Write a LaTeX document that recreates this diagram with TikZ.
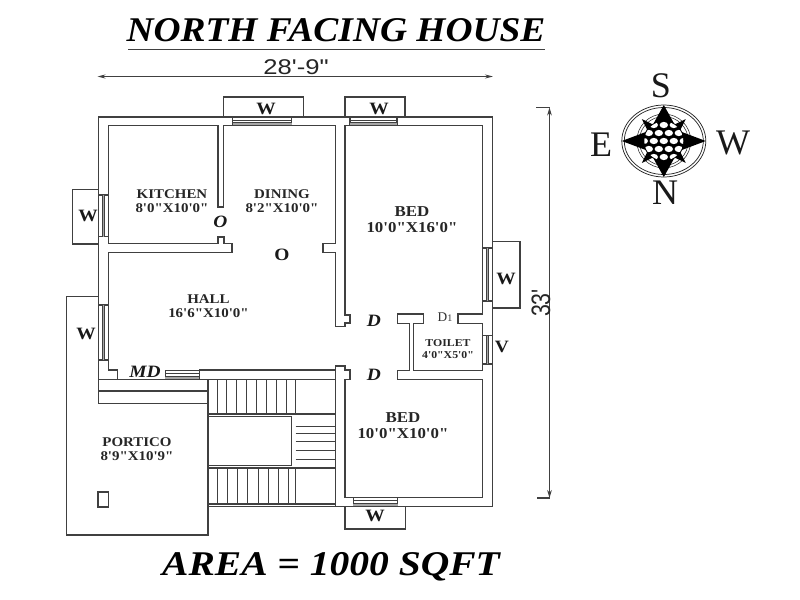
\documentclass[tikz,border=0pt]{standalone}
\usepackage{fontspec}
\usetikzlibrary{arrows.meta}
\newfontfamily\srf{Liberation Serif}
\newfontfamily\snf{Liberation Sans}
\definecolor{wallc}{HTML}{404040}
\newcommand{\fs}[1]{\fontsize{#1}{#1}\selectfont}
\newcommand{\WinH}[4]{\draw[wall,fill=white] (#1,#3) rectangle (#2,#4);
  \fill[gray!70] (#1,#4-3.5) rectangle (#2,#4-1);
  \draw[thin1] (#1,#3+3) -- (#2,#3+3) (#1,#4-3.5) -- (#2,#4-3.5);}
\newcommand{\WinV}[4]{\draw[wall,fill=white] (#1,#3) rectangle (#2,#4);
  \fill[gray!70] (#1+3.5,#3) rectangle (#1+6,#4);
  \draw[thin1] (#1+3.5,#3) -- (#1+3.5,#4) (#1+6,#3) -- (#1+6,#4);}
\tikzset{
  wall/.style={draw=wallc,line width=0.85pt,line join=miter},
  thin1/.style={draw=wallc,line width=0.4pt},
  lbl/.style={font=\srf\bfseries\fs{10},text=black!85,inner sep=0pt,align=center,xscale=1.12,transform shape},
  bedlbl/.style={lbl,font=\srf\bfseries\fs{11.3}},
  toil/.style={lbl,font=\srf\bfseries\fs{7.9}},
  bigw/.style={font=\srf\bfseries\fs{13},text=black!90,inner sep=0pt,xscale=1.12,transform shape},
  itl/.style={font=\srf\bfseries\itshape\fs{13},text=black!90,inner sep=0pt,xscale=1.12,transform shape},
  comp/.style={font=\srf\fs{27},text=black!90,inner sep=0pt},
  dimtxt/.style={font=\snf\fs{16},text=black!85,inner sep=0pt},
  dimline/.style={draw=wallc,line width=0.8pt},
  ttl/.style={font=\srf\bfseries\itshape\fs{26},text=black,inner sep=0pt},
}
\begin{document}
\begin{tikzpicture}[x=0.75pt,y=-0.75pt]
\useasboundingbox (0,0) rectangle (800,600);
\fill[white] (0,0) rectangle (800,600);

% title
\node[ttl,xscale=1.08,transform shape] (title) at (336,30) {NORTH FACING HOUSE};
\coordinate (ul1) at (128,49.5); \coordinate (ul2) at (545,49.5);
\draw[wall] (ul1) -- (ul2);
\node[ttl,xscale=1.14,transform shape] (area) at (331,567) {AREA = 1000 SQFT};

% dimensions
\coordinate (dw1) at (97.5,76.5); \coordinate (dw2) at (493,76.5);
\draw[dimline,{Stealth[length=6pt,width=3pt]}-{Stealth[length=6pt,width=3pt]}] (dw1) -- (dw2);
\node[dimtxt,xscale=1.2,transform shape] (dimw) at (296,67) {28'-9"};
\coordinate (dh1) at (549.5,107.5); \coordinate (dh2) at (549.5,498);
\draw[dimline,{Stealth[length=6pt,width=3.5pt]}-{Stealth[length=6pt,width=3.5pt]}] (dh1) -- (dh2);
\draw[dimline] (536,107.5) -- (dh1) (537,498) -- (dh2);
\node[dimtxt,rotate=90,yscale=1.25,transform shape] (dimh) at (541,303) {33'};

% window bays
\draw[wall] (223.3,117) -- (223.3,97) -- (303.3,97) -- (303.3,117);
\draw[wall] (345,117) -- (345,97) -- (405,97) -- (405,117);
\draw[wall] (98.3,189.3) -- (72.7,189.3) -- (72.7,244) -- (98.3,244);
\draw[wall] (492.7,241.7) -- (520,241.7) -- (520,308) -- (492.7,308);
\draw[wall] (345,506.7) -- (345,529) -- (405.7,529) -- (405.7,506.7);

% outer wall
\draw[wall] (98.3,403.3) -- (98.3,117) -- (492.7,117) -- (492.7,506.7) -- (208,506.7);
% inner outline
\draw[wall] (108.6,243.5) -- (108.6,125.6) -- (218,125.6) -- (218,207) -- (223.6,207) -- (223.6,125.6)
  -- (335.3,125.6) -- (335.3,243.5) -- (323,243.5) -- (323,252.7) -- (335.3,252.7) -- (335.3,326.7)
  -- (345,326.7) -- (345,323) -- (350,323) -- (350,315) -- (345,315) -- (345,125.6)
  -- (482.7,125.6) -- (482.7,314) -- (458,314) -- (458,323.3) -- (482.7,323.3) -- (482.7,370.3)
  -- (413.7,370.3) -- (413.7,323.3) -- (423.7,323.3) -- (423.7,314) -- (397.7,314) -- (397.7,323.3)
  -- (409.3,323.3) -- (409.3,370.3) -- (397.7,370.3) -- (397.7,379.7) -- (482.7,379.7) -- (482.7,497.3)
  -- (345,497.3) -- (345,379.7) -- (350,379.7) -- (350,370) -- (345,370) -- (345,366) -- (335.3,366)
  -- (335.3,370) -- (199.3,370);
\draw[wall] (108.6,243.5) -- (218,243.5) -- (218,237) -- (224,237) -- (224,243.5) -- (232,243.5)
  -- (232,252.7) -- (108.6,252.7) -- (108.6,370) -- (117.3,370) -- (117.3,379.7);
\draw[wall] (98.3,379.7) -- (335.3,379.7);
\draw[wall] (335.3,370) -- (335.3,506.7);
\draw[wall] (98.3,391) -- (208,391);
\draw[wall] (98.3,403.3) -- (208,403.3);

% portico
\draw[wall] (98.3,296.7) -- (66.7,296.7) -- (66.7,535) -- (208,535) -- (208,379.7);
\draw[wall] (98,492) rectangle (108.7,507);

% stairs
\draw[wall] (208,414) -- (335.3,414);
\draw[wall] (208,416.7) -- (291.7,416.7) -- (291.7,465.7) -- (208,465.7);
\draw[wall] (208,468) -- (335.3,468);
\draw[wall] (208,504) -- (335.3,504);
\draw[wall] (295.7,379.7) -- (295.7,414) (295.7,468) -- (295.7,504);
\foreach \x in {217,226.7,236.7,246.7,256.7,266.7,276.7,286.7}
  \draw[wall,line width=0.7pt] (\x,379.7) -- (\x,414);
\foreach \x in {217.7,227.7,237.7,247.7,258.3,268.3,278.3,288.3}
  \draw[wall,line width=0.7pt] (\x,468) -- (\x,504);
\foreach \y in {426,433.7,441.7,450,459.3}
  \draw[wall,line width=0.7pt] (295.7,\y) -- (335.3,\y);

% windows
\WinH{232.7}{291.7}{117}{125.6}
\WinH{350}{397}{117}{125.6}
\WinH{353.3}{397.7}{497.3}{506.7}
\WinH{165.3}{199.3}{370.7}{379.7}
\WinV{98.3}{108.6}{195}{236.7}
\WinV{98.3}{108.6}{305}{360}
\WinV{482.7}{492.7}{248}{301}
\WinV{482.7}{492.7}{335.7}{364}

% labels
\node[bigw] (w1) at (266,108.5) {W};
\node[bigw] (w2) at (379,109) {W};
\node[bigw] (w3) at (88,216) {W};
\node[bigw] (w4) at (506,279) {W};
\node[bigw] (w5) at (86,334) {W};
\node[bigw] (w6) at (375,516) {W};
\node[bigw] (v1) at (502,347) {V};
\node[bigw] (o2) at (282,255) {O};
\node[itl] (o1) at (220.5,222) {O};
\node[itl] (d1) at (374,321) {D};
\node[itl] (d2) at (374,374.5) {D};
\node[itl] (md) at (145,371.5) {MD};
\node[font=\srf\fs{10},text=black!80,inner sep=0pt] (d3) at (445,317) {D{\fs{7.5}1}};
\node[lbl] (kit) at (172,201) {KITCHEN\\[0.6pt]8'0"X10'0"};
\node[lbl] (din) at (282,201) {DINING\\[0.6pt]8'2"X10'0"};
\node[lbl] (hall) at (208.5,306.5) {HALL\\[0.6pt]16'6"X10'0"};
\node[bedlbl] (bed1) at (412,220) {BED\\[0.8pt]10'0"X16'0"};
\node[bedlbl] (bed2) at (403,426) {BED\\[0.8pt]10'0"X10'0"};
\node[lbl] (port) at (137,449.5) {PORTICO\\[0.6pt]8'9"X10'9"};
\node[toil] (toil) at (448,349) {TOILET\\[0.5pt]4'0"X5'0"};

% compass
\begin{scope}[shift={(663.8,141)}]
  \draw[line width=0.55pt,black!85] (0,0) ellipse [x radius=42,y radius=36];
  \draw[line width=0.55pt,black!85] (0,0) ellipse [x radius=39.5,y radius=33.5];
  \draw[line width=0.4pt,black!85] (0,0) circle (27);
  \draw[line width=0.4pt,black!85] (0,0) circle (24.5);
  \fill[black] (45:31) -- (30:18) -- (60:18) -- cycle;
  \fill[black] (135:31) -- (120:18) -- (150:18) -- cycle;
  \fill[black] (225:31) -- (210:18) -- (240:18) -- cycle;
  \fill[black] (315:31) -- (300:18) -- (330:18) -- cycle;
  \fill[black] (0,-36) -- (10,-18) -- (0,0) -- (-10,-18) -- cycle;
  \fill[black] (0,36) -- (10,18) -- (0,0) -- (-10,18) -- cycle;
  \fill[black] (42,0) -- (18,-9) -- (0,0) -- (18,9) -- cycle;
  \fill[black] (-42,0) -- (-18,-9) -- (0,0) -- (-18,9) -- cycle;
  \fill[black] (0,0) circle (20.5);
  \begin{scope}
    \clip (0,0) circle (19.5);
    \foreach \yy/\off in {-16/0,-8/5,0/0,8/5,16/0}
      \foreach \xx in {-20,-10,0,10,20}
        \fill[white] (\xx+\off,\yy) ellipse [x radius=4.2,y radius=3.1];
  \end{scope}
\end{scope}
\node[comp] (cs) at (661,86) {S};
\node[comp] (ce) at (601,145) {E};
\node[comp] (cw) at (733,143) {W};
\node[comp] (cn) at (665,193) {N};
\end{tikzpicture}
\end{document}
